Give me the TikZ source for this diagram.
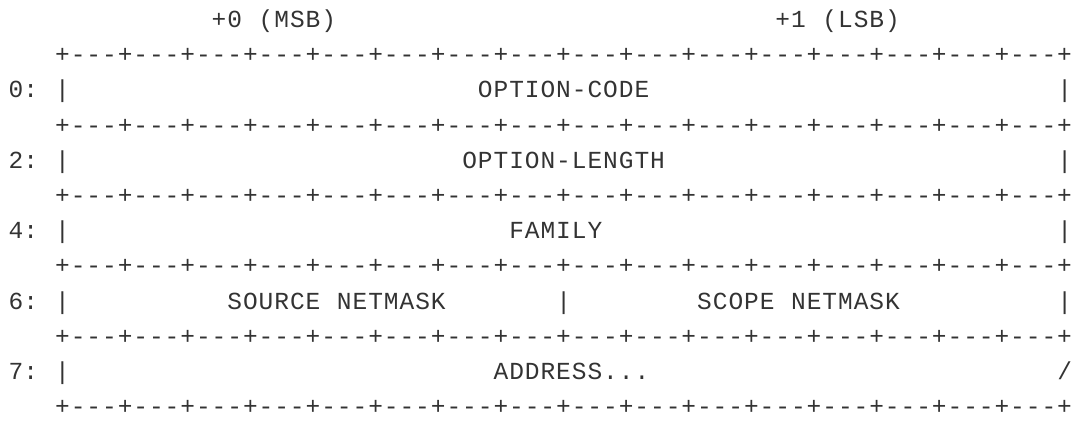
\documentclass[tikz,border=0pt]{standalone}
\usepackage{fontspec}
\newfontfamily\asciifont{Liberation Mono}
\newlength\cw
\setlength\cw{15.66pt}
\def\mymono#1{\mymonoi#1\mymonoend}
\def\mymonoi#1{\ifx#1\mymonoend\else\makebox[\cw][c]{#1}\expandafter\mymonoi\fi}
\definecolor{txt}{HTML}{333333}
\tikzset{ascii/.style={anchor=base, inner sep=0pt, outer sep=0pt, text=txt,
  font=\asciifont\fontsize{24.5}{24.5}\selectfont}}
\begin{document}
\begin{tikzpicture}[x=1pt,y=1pt]
\useasboundingbox (0,0) rectangle (1074,-423);
% header
\node[ascii] (hdrA) at (273.89,-27.5) {\mymono{+0~(MSB)}};
\node[ascii] (hdrB) at (837.65,-27.5) {\mymono{+1~(LSB)}};
% borders
\foreach \i/\y in {0/62.7,1/133.1,2/203.5,3/273.9,4/344.3,5/414.7}
  \node[ascii] (border\i) at (563.6,-\y) {\mymono{+---+---+---+---+---+---+---+---+---+---+---+---+---+---+---+---+}};
% row labels and side bars
\foreach \n/\lab/\y in {0/0:/97.9,1/2:/168.3,2/4:/238.7,3/6:/309.1,4/7:/379.5}{
  \node[ascii] (lab\n) at (23.33,-\y) {\mymono{\lab}};
  \node[ascii] (lbar\n) at (62.48,-\y) {\mymono{|}};
}
\foreach \n/\y in {0/97.9,1/168.3,2/238.7,3/309.1}
  \node[ascii] (rbar\n) at (1064.72,-\y) {\mymono{|}};
\node[ascii] (rslash) at (1064.72,-379.5) {\mymono{/}};
% fields
\node[ascii] (optcode) at (563.6,-97.9) {\mymono{OPTION-CODE}};
\node[ascii] (optlen) at (563.6,-168.3) {\mymono{OPTION-LENGTH}};
\node[ascii] (family) at (555.77,-238.7) {\mymono{FAMILY}};
\node[ascii] (srcmask) at (336.53,-309.1) {\mymono{SOURCE~NETMASK}};
\node[ascii] (midbar) at (563.6,-309.1) {\mymono{|}};
\node[ascii] (scopemask) at (798.5,-309.1) {\mymono{SCOPE~NETMASK}};
\node[ascii] (address) at (571.43,-379.5) {\mymono{ADDRESS...}};
\end{tikzpicture}
\end{document}
